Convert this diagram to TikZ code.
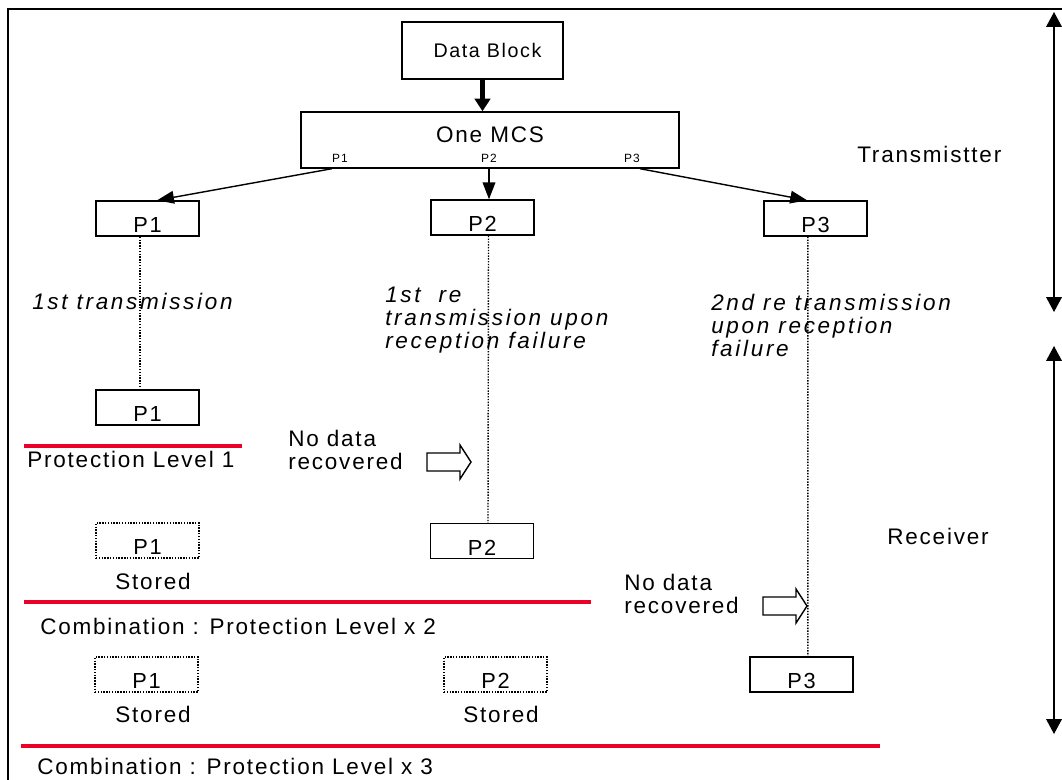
\documentclass[tikz,border=0pt]{standalone}
\usepackage{fontspec}
\setmainfont{Liberation Sans}[LetterSpace=8]
\usetikzlibrary{arrows.meta,positioning}
\definecolor{levelred}{RGB}{235,0,40}

\tikzset{
  pbox/.style={draw, line width=1pt, minimum width=2.575cm, minimum height=0.875cm,
    inner sep=0pt, text height=0.72cm, text depth=0pt, font=\fontsize{15.5}{17}\selectfont},
  storedbox/.style={pbox, dash pattern=on 1pt off 1pt},
  txt/.style={inner sep=0pt, anchor=base west, align=left, font=\fontsize{16}{16.3}\selectfont},
  itxt/.style={txt, font=\fontsize{16}{16.3}\selectfont\itshape\addfontfeature{LetterSpace=12}},
  small/.style={inner sep=0pt, anchor=base, font=\fontsize{8.5}{9}\selectfont},
  link/.style={line width=1pt, -{Triangle[length=12pt,width=9pt]}},
  trace/.style={line width=1pt, dash pattern=on 1pt off 1pt},
  level/.style={levelred, line width=2.2pt},
  span/.style={line width=1pt, {Triangle[length=10.5pt,width=11pt]}-{Triangle[length=10.5pt,width=11pt]}},
  hollow arrow/.pic={
    \draw[line width=1pt] (-44,-9) -- (-11,-9) -- (-11,-17) -- (0,0) -- (-11,17)
      -- (-11,9) -- (-44,9) -- cycle;
  }
}

\begin{document}
\begin{tikzpicture}[x=0.025cm, y=-0.025cm]
  \useasboundingbox (0,0) rectangle (1062,780);
  \draw[line width=1.5pt] (8,780) -- (8,9) -- (1062,9);

  \node [draw, line width=1pt, minimum width=4.025cm, minimum height=1.425cm,
    font=\fontsize{14}{15}\selectfont] at (482.5,50.5) (data) {\hspace{0.25cm}Data Block};
  \node [draw, line width=1pt, minimum width=9.45cm, minimum height=1.4cm,
    font=\fontsize{16}{17}\selectfont] at (490,140) (mcs) {One MCS\rule[-0.25cm]{0pt}{0pt}};
  \node [small] at (340,163) (mp1) {P1};
  \node [small] at (489,163) (mp2) {P2};
  \node [small] at (632,163) (mp3) {P3};

  \node [pbox] at (147.5,218.5) (p1a) {P1};
  \node [pbox] at (482.5,217.5) (p2a) {P2};
  \node [pbox] at (815.5,218.5) (p3a) {P3};

  \node [pbox] at (147.5,407.5) (p1b) {P1};
  \node [pbox] at (482,541) (p2b) {P2};
  \node [pbox] at (801.5,674.5) (p3b) {P3};

  \node [storedbox] at (147.5,540.5) (s1) {P1};
  \node [storedbox] at (146.5,674.5) (s2) {P1};
  \node [storedbox] at (495.5,674.5) (s3) {P2};
  \node [txt, anchor=base] at (153,589) (st1) {Stored};
  \node [txt, anchor=base] at (153,722) (st2) {Stored};
  \node [txt, anchor=base] at (501,722) (st3) {Stored};

  \node [itxt] at (32,310) (tx1) {1st transmission};
  \node [itxt] at (385,348) (tx2) {1st\ \ re\\transmission upon\\reception failure};
  \node [itxt] at (711,356) (tx3) {2nd re transmission\\upon reception\\failure};
  \node [txt] at (288,469) (nd1) {No data\\recovered};
  \node [txt] at (624,613) (nd2) {No data\\recovered};
  \node [txt] at (857,163) (tr) {Transmistter};
  \node [txt] at (887,544) (rc) {Receiver};
  \node [txt] at (27,467) (lv1) {Protection Level 1};
  \node [txt] at (40,634) (lv2) {Combination : Protection Level x 2};
  \node [txt] at (37,774) (lv3) {Combination : Protection Level x 3};

  \draw [line width=3.5pt, -{Triangle[length=9pt,width=11pt]}] (data.south) -- (data.south |- mcs.north);
  \draw [link] (mp1.south west |- mcs.south) -- ([xshift=0.24cm]p1a.north);
  \draw [link] (mp2.south |- mcs.south) -- (mp2.south |- p2a.north);
  \draw [link] (mp3.south east |- mcs.south) -- ([xshift=-0.21cm]p3a.north);

  \draw [trace] ([xshift=-0.19cm]p1a.south) -- ([xshift=-0.19cm]p1b.north);
  \draw [trace] ([xshift=0.15cm]p2a.south) -- ([xshift=0.15cm]p2b.north);
  \draw [trace] ([xshift=-0.19cm]p3a.south) -- ([xshift=0.16cm]p3b.north);

  \pic at (471,462) {hollow arrow};
  \pic at (807,606) {hollow arrow};

  \draw [level] (24,446) -- (242,446);
  \draw [level] (24,602) -- (591,602);
  \draw [level] (21,746) -- (880,746);

  \coordinate (txtop) at (1054,12);
  \coordinate (txbot) at (1054,312);
  \coordinate (rxtop) at (1054,346);
  \coordinate (rxbot) at (1054,734);
  \draw [span] (txtop) -- (txbot);
  \draw [span] (rxtop) -- (rxbot);
\end{tikzpicture}
\end{document}
